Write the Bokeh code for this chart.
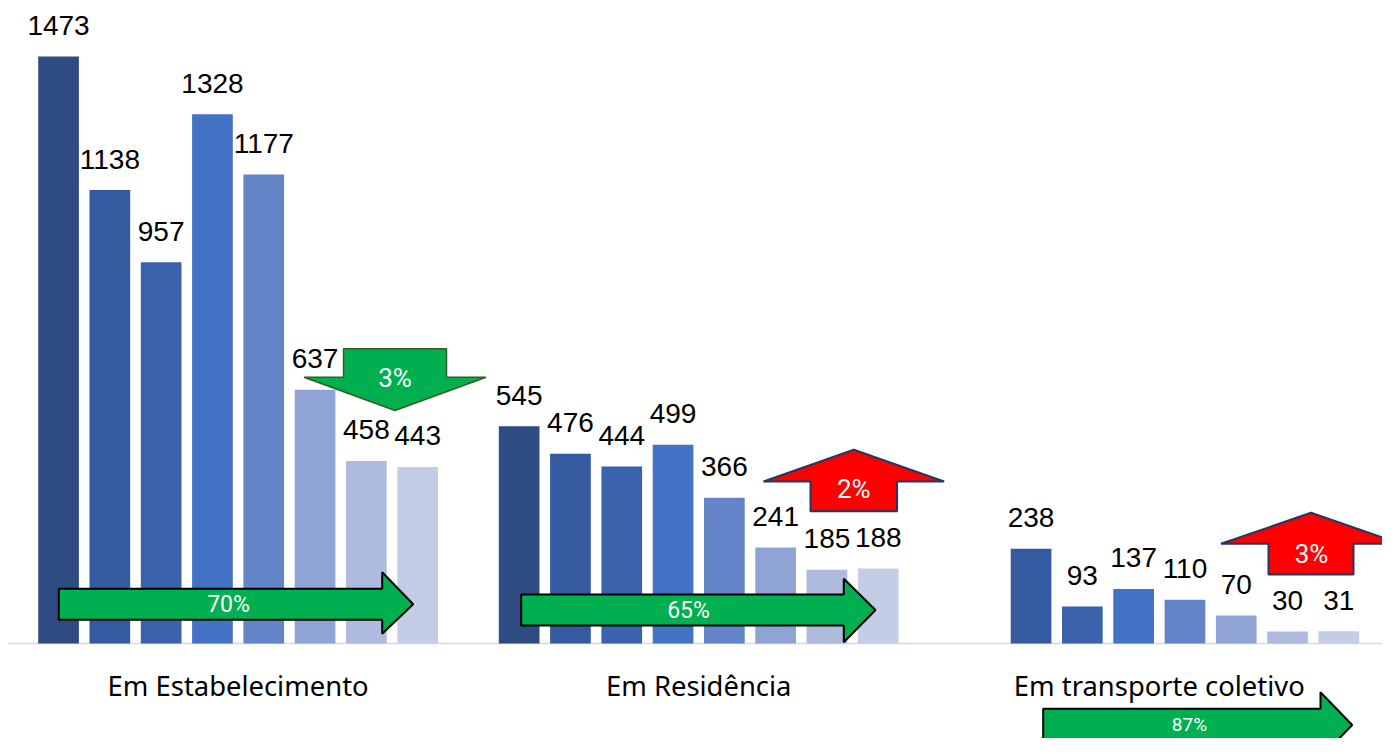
from bokeh.plotting import figure
from bokeh.models import ColumnDataSource, Range1d
from bokeh.core.properties import value
from bokeh.embed import file_html
from bokeh.resources import INLINE
import numpy as np

# ---------------- data ----------------
categories = ["Em Estabelecimento", "Em Residência", "Em transporte coletivo"]
series_names = ["S1", "S2", "S3", "S4", "S5", "S6", "S7", "S8"]
estabelecimento = [1473, 1138, 957, 1328, 1177, 637, 458, 443]
residencia = [545, 476, 444, 499, 366, 241, 185, 188]
transporte = [None, 238, 93, 137, 110, 70, 30, 31]
series_colors = ["#2e4b82", "#355aa0", "#3a63ac", "#4472c4",
                 "#6484c8", "#8fa3d4", "#aebbde", "#c4cde6"]

# arrow annotation labels
arrow_labels = ["3%", "2%", "3%", "70%", "65%", "87%"]

# ---------------- layout / scales ----------------
W, H = 1382, 738
sx = 460.6               # px per group unit
sy = 0.3985              # px per value unit
x0 = -237.6 / sx         # so group 0 centre sits at picture x 237.6
base_px = 643            # picture y of the zero line
y1 = base_px / sy
y0 = y1 - H / sy
x1 = x0 + W / sx


def X(px):
    return x0 + px / sx


def Y(py):
    return y1 - py / sy


p = figure(width=W, height=H, output_backend="svg", toolbar_location=None,
           x_range=Range1d(x0, x1), y_range=Range1d(y0, y1),
           min_border=0, min_border_left=0, min_border_right=0,
           min_border_top=0, min_border_bottom=0)
p.axis.visible = False
p.grid.visible = False
p.outline_line_color = None
p.background_fill_color = "white"
p.border_fill_color = "white"

# zero line
p.segment(x0=[-0.5], y0=[0], x1=[2.5], y1=[0], line_color="#d9d9d9", line_width=1.6)

# bars
step = 51.3 / sx
bw = 40.7 / sx
groups = [estabelecimento, residencia, transporte]
xs, tops, cols, labs = [], [], [], []
for g, vals in enumerate(groups):
    for i, v in enumerate(vals):
        if v is None:
            continue
        xs.append(g + (i - 3.5) * step)
        tops.append(v)
        cols.append(series_colors[i])
        labs.append(str(v))
src = ColumnDataSource(dict(x=xs, top=tops, color=cols, label=labs,
                            ly=[t + 31 / sy for t in tops]))
p.vbar(x="x", top="top", bottom=0, width=bw, fill_color="color", line_color=None, source=src)
p.text(x="x", y="ly", text="label", source=src, text_align="center",
       text_baseline="middle", text_font=value("Liberation Sans"),
       text_font_size="28px", text_color="#000000")

# category labels
p.text(x=[0, 1, 2], y=[Y(685)] * 3, text=categories, text_align="center",
       text_baseline="middle", text_font=value("Noto Sans"),
       text_font_size="27.4px", text_color="#000000")


# ---------------- arrows ----------------
def vertical_arrow(cx, tip_y, head_y, head_half, shaft_half, end_y):
    xs_ = [cx - shaft_half, cx + shaft_half, cx + shaft_half, cx + head_half, cx,
           cx - head_half, cx - shaft_half]
    ys_ = [end_y, end_y, head_y, head_y, tip_y, head_y, head_y]
    return [X(v) for v in xs_], [Y(v) for v in ys_]


def right_arrow(left, top, bottom, head_x, head_top, head_bot, tip_x):
    cy = (top + bottom) / 2
    xs_ = [left, head_x, head_x, tip_x, head_x, head_x, left]
    ys_ = [top, top, head_top, cy, head_bot, bottom, bottom]
    return [X(v) for v in xs_], [Y(v) for v in ys_]


# down arrow (group 0)
ax, ay = vertical_arrow(394.5, 410, 376.7, 91, 51.5, 348.3)
p.patch(ax, ay, fill_color="#00b050", line_color="#3a5a1e", line_width=1.5)
# up arrows
ax, ay = vertical_arrow(853.3, 449.3, 481, 90.3, 43.3, 510.7)
p.patch(ax, ay, fill_color="#ff0000", line_color="#1f3864", line_width=2)
ax, ay = vertical_arrow(1310.5, 512.3, 543.3, 90, 42.5, 574)
p.patch(ax, ay, fill_color="#ff0000", line_color="#1f3864", line_width=2)
# right arrows
for spec in [(58.3, 588.3, 619.3, 381.7, 571.7, 633.3, 412.7),
             (520.7, 594, 625, 843.3, 578.3, 641.7, 875),
             (1042.7, 708.3, 740.7, 1320, 691.7, 757.3, 1351.7)]:
    ax, ay = right_arrow(*spec)
    p.patch(ax, ay, fill_color="#00b050", line_color="#000000", line_width=2)

# arrow texts
p.text(x=[X(394.5), X(853.3), X(1311)], y=[Y(377), Y(488), Y(553)],
       text=[arrow_labels[0], arrow_labels[1], arrow_labels[2]],
       text_align="center", text_baseline="middle",
       text_font=value("Roboto"), text_font_size="26px",
       text_color="white")
p.text(x=[X(228), X(688)], y=[Y(604), Y(610)],
       text=[arrow_labels[3], arrow_labels[4]],
       text_align="center", text_baseline="middle",
       text_font=value("Roboto"), text_font_size="23px",
       text_color="white")
p.text(x=[X(1189)], y=[Y(724)], text=[arrow_labels[5]],
       text_align="center", text_baseline="middle",
       text_font=value("Roboto"), text_font_size="19px",
       text_color="white")

open("out.html", "w").write(file_html(p, INLINE))
